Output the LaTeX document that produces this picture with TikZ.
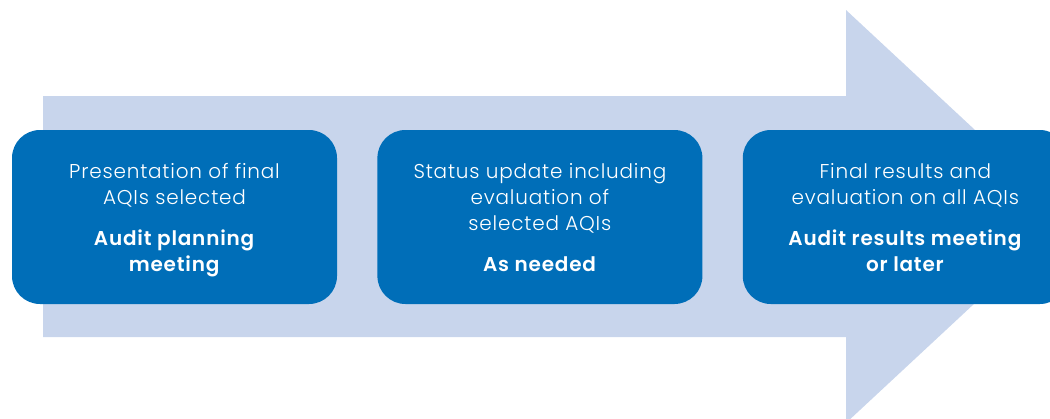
\documentclass[tikz,border=0pt]{standalone}
\usepackage{fontspec}
\setmainfont{Poppins Light}[BoldFont=Poppins SemiBold, LetterSpace=4]
\usepackage{tikz}
\usetikzlibrary{positioning}
\definecolor{boxblue}{RGB}{0,110,184}
\definecolor{arrowblue}{RGB}{200,213,236}

\begin{document}
\begin{tikzpicture}[x=1pt, y=-1pt,
    stage/.style={fill=boxblue, text=white, rounded corners=28pt,
      minimum width=325pt, minimum height=174pt, inner sep=0pt,
      align=center, text depth=0pt, font=\fontsize{20}{26}\selectfont}]
    \useasboundingbox (0, 0) rectangle (1050, 418);
    \fill[arrowblue] (43, 96) -- (846, 96) -- (846, 10) -- (1068, 216.5)
                  -- (846, 423) -- (846, 337) -- (43, 337) -- cycle;

    \node[stage](plan) at (174.5, 217)
      {Presentation of final\\AQIs selected\\[15pt]\textbf{Audit planning}\\\textbf{meeting}};
    \node[stage, right=40pt of plan](status)
      {Status update including\\evaluation of\\selected AQIs\\[15pt]\textbf{As needed}};
    \node[stage, right=40pt of status](results)
      {Final results and\\evaluation on all AQIs\\[15pt]\textbf{Audit results meeting}\\\textbf{or later}};
  \end{tikzpicture}
\end{document}
